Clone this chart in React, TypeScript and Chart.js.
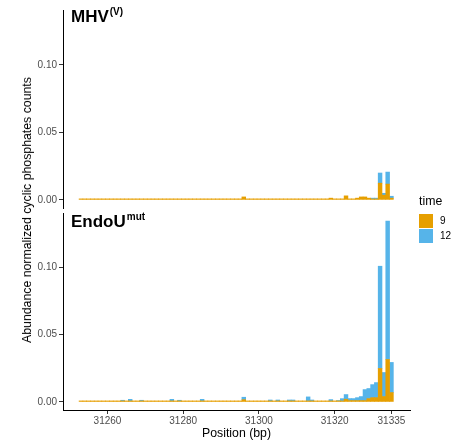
import React, { useEffect, useRef } from "react";
import { Chart, registerables } from "chart.js";

Chart.register(...registerables);

// ---- data ----
const positions = [
  31253, 31254, 31255, 31256, 31257, 31258, 31259, 31260, 31261, 31262,
  31263, 31264, 31265, 31266, 31267, 31268, 31269, 31270, 31271, 31272,
  31273, 31274, 31275, 31276, 31277, 31278, 31279, 31280, 31281, 31282,
  31283, 31284, 31285, 31286, 31287, 31288, 31289, 31290, 31291, 31292,
  31293, 31294, 31295, 31296, 31297, 31298, 31299, 31300, 31301, 31302,
  31303, 31304, 31305, 31306, 31307, 31308, 31309, 31310, 31311, 31312,
  31313, 31314, 31315, 31316, 31317, 31318, 31319, 31320, 31321, 31322,
  31323, 31324, 31325, 31326, 31327, 31328, 31329, 31330, 31331, 31332,
  31333, 31334, 31335,
];

// MHV(V), time 9
const mhvTime9 = [
  0.00075, 0.00075, 0.00075, 0.00075, 0.00075, 0.00075, 0.00075, 0.00075, 0.00075, 0.00075,
  0.00075, 0.00075, 0.00075, 0.00075, 0.00075, 0.00075, 0.00075, 0.00075, 0.00075, 0.00075,
  0.00075, 0.00075, 0.00075, 0.00075, 0.00075, 0.00075, 0.00075, 0.00075, 0.00075, 0.00075,
  0.00075, 0.00075, 0.00075, 0.00075, 0.00075, 0.00075, 0.00075, 0.00075, 0.00075, 0.00075,
  0.00075, 0.00075, 0.00075, 0.0022, 0.00075, 0.00075, 0.00075, 0.00075, 0.00075, 0.00075,
  0.00075, 0.00075, 0.00075, 0.00075, 0.00075, 0.00075, 0.00075, 0.00075, 0.00075, 0.00075,
  0.00075, 0.00075, 0.00075, 0.00075, 0.00075, 0.00075, 0.0013, 0.00075, 0.00075, 0.00075,
  0.003, 0.00075, 0.00075, 0.0013, 0.0022, 0.0022, 0.0013, 0.0007, 0.0007, 0.0124,
  0.0035, 0.0117, 0.0013,
];

// MHV(V), time 12
const mhvTime12 = [
  0, 0, 0, 0, 0, 0, 0, 0, 0, 0,
  0, 0, 0, 0, 0, 0, 0, 0, 0, 0,
  0, 0, 0, 0, 0, 0, 0, 0, 0, 0,
  0, 0, 0, 0, 0, 0, 0, 0, 0, 0,
  0, 0, 0, 0, 0, 0, 0, 0, 0, 0,
  0, 0, 0, 0, 0, 0, 0, 0, 0, 0,
  0, 0, 0, 0, 0, 0, 0, 0, 0, 0,
  0, 0, 0, 0, 0, 0, 0, 0.0006, 0.0006, 0.0075,
  0.0014, 0.0089, 0.0014,
];

// EndoU mut, time 9
const endoTime9 = [
  0.00075, 0.00075, 0.00075, 0.00075, 0.00075, 0.00075, 0.00075, 0.00075, 0.00075, 0.00075,
  0.00075, 0.00075, 0.00075, 0.00075, 0.00075, 0.00075, 0.00075, 0.00075, 0.00075, 0.00075,
  0.00075, 0.00075, 0.00075, 0.00075, 0.00075, 0.00075, 0.00075, 0.00075, 0.00075, 0.00075,
  0.00075, 0.00075, 0.00075, 0.00075, 0.00075, 0.00075, 0.00075, 0.00075, 0.00075, 0.00075,
  0.00075, 0.00075, 0.00075, 0.0017, 0.00075, 0.00075, 0.00075, 0.00075, 0.00075, 0.00075,
  0.00075, 0.00075, 0.00075, 0.00075, 0.00075, 0.00075, 0.00075, 0.00075, 0.00075, 0.00075,
  0.00075, 0.00075, 0.00075, 0.00075, 0.00075, 0.00075, 0.00075, 0.00075, 0.00075, 0.00075,
  0.002, 0.001, 0.001, 0.001, 0.001, 0.001, 0.0025, 0.0032, 0.0032, 0.0249,
  0.004, 0.0316, 0.007,
];

// EndoU mut, time 12
const endoTime12 = [
  0, 0, 0, 0, 0, 0, 0, 0, 0, 0,
  0, 0.0005, 0, 0.0012, 0, 0, 0.0005, 0, 0, 0,
  0, 0, 0, 0, 0.0012, 0, 0.0005, 0, 0, 0,
  0, 0, 0.0012, 0, 0, 0, 0, 0, 0, 0,
  0, 0, 0, 0.0018, 0, 0, 0, 0, 0, 0,
  0.0007, 0, 0.0007, 0, 0, 0.0007, 0.0007, 0, 0, 0,
  0.003, 0.0007, 0, 0, 0, 0, 0.001, 0, 0.0003, 0.0017,
  0.0035, 0.0015, 0.0015, 0.0022, 0.003, 0.0082, 0.0075, 0.0097, 0.0112, 0.0761,
  0.0179, 0.103, 0.0224,
];

const seriesLabels = ["9", "12"];
const seriesColors = ["#E69F00", "#56B4E9"];
const xTicks = [31260, 31280, 31300, 31320, 31335];
const yTicks = [0, 0.05, 0.1];

const X_MIN = 31248.25;
const X_MAX = 31339.9;
const Y_MIN = -0.006;
const Y_MAX = 0.1406;

const FONT = "'Liberation Sans', Arial, Helvetica, sans-serif";

function makeConfig(t9: number[], t12: number[], showX: boolean, padTop: number, padBottom: number): any {
  // zero-height bars are left out so they do not draw a sliver over the stack
  const toPts = (arr: number[]) =>
    positions.map((p, i) => ({ x: p, y: arr[i] })).filter((d) => d.y !== 0);
  return {
    type: "bar",
    data: {
      datasets: [
        { label: seriesLabels[0], data: toPts(t9), backgroundColor: seriesColors[0], borderWidth: 0 },
        { label: seriesLabels[1], data: toPts(t12), backgroundColor: seriesColors[1], borderWidth: 0 },
      ],
    },
    options: {
      animation: false,
      responsive: false,
      devicePixelRatio: 1,
      layout: { padding: { left: 0, right: 51, top: padTop, bottom: padBottom } },
      plugins: { legend: { display: false }, tooltip: { enabled: false }, title: { display: false } },
      datasets: { bar: { categoryPercentage: 1, barPercentage: 1 } },
      scales: {
        x: {
          type: "linear",
          min: X_MIN,
          max: X_MAX,
          stacked: true,
          offset: false,
          display: showX,
          afterBuildTicks: (s: any) => {
            s.ticks = xTicks.map((v) => ({ value: v }));
          },
          afterFit: (s: any) => {
            if (showX) s.height = 35;
            s.paddingLeft = 0;
            s.paddingRight = 0;
          },
          ticks: {
            autoSkip: false,
            maxRotation: 0,
            padding: 1,
            color: "#4D4D4D",
            font: { family: FONT, size: 10 },
            callback: (v: any) => String(v),
          },
          grid: { display: true, drawOnChartArea: false, drawTicks: true, tickLength: 4, color: "#333333", offset: false },
          border: { display: true, color: "#000000", width: 1 },
        },
        y: {
          type: "linear",
          min: Y_MIN,
          max: Y_MAX,
          stacked: true,
          afterBuildTicks: (s: any) => {
            s.ticks = yTicks.map((v) => ({ value: v }));
          },
          afterFit: (s: any) => {
            s.width = 63;
            s.paddingTop = 0;
            s.paddingBottom = 0;
          },
          ticks: {
            padding: 2,
            color: "#4D4D4D",
            font: { family: FONT, size: 10 },
            callback: (v: any) => Number(v).toFixed(2),
          },
          grid: { display: true, drawOnChartArea: false, drawTicks: true, tickLength: 4, color: "#333333", offset: false },
          border: { display: true, color: "#000000", width: 1 },
        },
      },
    },
  };
}

export default function App() {
  const topRef = useRef<HTMLCanvasElement | null>(null);
  const botRef = useRef<HTMLCanvasElement | null>(null);

  useEffect(() => {
    const c1 = new Chart(topRef.current as HTMLCanvasElement, makeConfig(mhvTime9, mhvTime12, false, 10, 4));
    const c2 = new Chart(botRef.current as HTMLCanvasElement, makeConfig(endoTime9, endoTime12, true, 1, 0));
    return () => {
      c1.destroy();
      c2.destroy();
    };
  }, []);

  const abs = (o: any) => ({ position: "absolute" as const, ...o });

  return (
    <div style={{ position: "absolute", left: 0, top: 0, width: 461, height: 445, background: "#fff", fontFamily: FONT, color: "#000" }}>
      <canvas ref={topRef} width={461} height={212} style={abs({ left: 0, top: 0, width: 461, height: 212, display: "block" })} />
      <canvas ref={botRef} width={461} height={233} style={abs({ left: 0, top: 212, width: 461, height: 233, display: "block" })} />

      {/* facet labels */}
      <div style={abs({ left: 71, top: 8, fontSize: 17, lineHeight: "17px", fontWeight: "bold", whiteSpace: "nowrap" })}>
        MHV<span style={{ fontSize: 10, position: "relative", top: -7, marginLeft: 1 }}>(V)</span>
      </div>
      <div style={abs({ left: 71, top: 213, fontSize: 17, lineHeight: "17px", fontWeight: "bold", whiteSpace: "nowrap" })}>
        EndoU<span style={{ fontSize: 10, position: "relative", top: -7, marginLeft: 1 }}>mut</span>
      </div>

      {/* y axis title */}
      <div
        style={abs({
          left: 27,
          top: 210,
          transform: "translate(-50%, -50%) rotate(-90deg)",
          fontSize: 12.3,
          whiteSpace: "nowrap",
          lineHeight: "14px",
        })}
      >
        Abundance normalized cyclic phosphates counts
      </div>

      {/* x axis title */}
      <div style={abs({ left: 236.5, top: 433, transform: "translate(-50%, -50%)", fontSize: 12.3, whiteSpace: "nowrap", lineHeight: "14px" })}>
        Position (bp)
      </div>

      {/* legend */}
      <div style={abs({ left: 419, top: 194, fontSize: 12.3, lineHeight: "14px" })}>time</div>
      <div style={abs({ left: 419, top: 214, width: 14, height: 14, background: seriesColors[0] })} />
      <div style={abs({ left: 419, top: 229, width: 14, height: 14, background: seriesColors[1] })} />
      <div style={abs({ left: 440, top: 215, fontSize: 10, lineHeight: "12px", color: "#000" })}>{seriesLabels[0]}</div>
      <div style={abs({ left: 440, top: 230, fontSize: 10, lineHeight: "12px", color: "#000" })}>{seriesLabels[1]}</div>
    </div>
  );
}
